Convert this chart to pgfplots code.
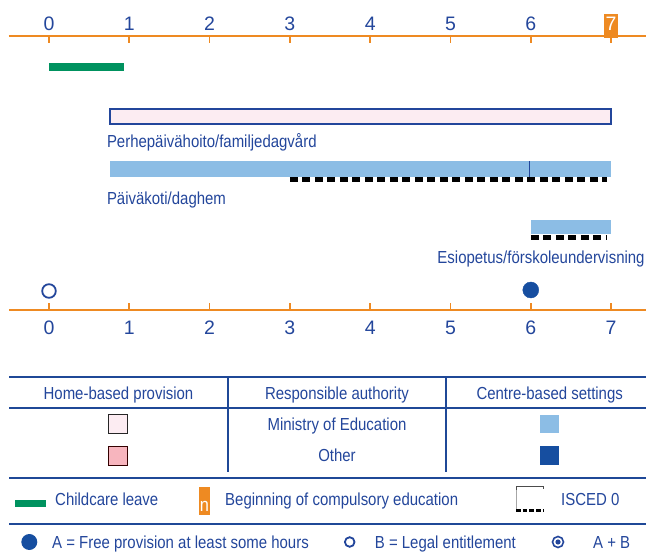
\documentclass[border=0pt]{standalone}
\usepackage{fontspec}
\setmainfont{Liberation Sans}[FakeStretch=0.86]
\newfontfamily\digitfont{Liberation Sans}
\usepackage{pgfplots}
\pgfplotsset{compat=1.18}

\definecolor{navy}{HTML}{23469B}
\definecolor{rulecol}{HTML}{1F4897}
\definecolor{ageorange}{HTML}{EE8A22}
\definecolor{leavegreen}{HTML}{00925F}
\definecolor{lightblue}{HTML}{8CBDE5}
\definecolor{darkblue}{HTML}{164EA0}
\definecolor{palepink}{HTML}{FCECF2}
\definecolor{pinkfill}{HTML}{F7B5BE}

\newcommand\txt{\fontsize{17.4}{20}\selectfont\color{navy}}

% common geometry of the age scale (1pt = 1px of the reference)
\pgfplotsset{
  agescale/.style={
    at={(9pt,-310pt)}, anchor=south west,
    scale only axis, width=637pt, height=274pt,
    xmin=-0.498, xmax=7.435, ymin=-310, ymax=-36,
    axis y line=none, ytick=\empty, clip=false,
    x axis line style={-, ageorange, line width=1.6pt},
    xtick={0,...,7},
    xtick style={ageorange, line width=1.6pt},
    major tick length=7pt, tick align=inside,
    xticklabel style={font=\digitfont\fontsize{19.5}{20}\selectfont, text=navy, inner sep=0pt},
  }
}

\begin{document}
\begin{tikzpicture}
\useasboundingbox (0,0) rectangle (646pt,-556pt);

% bottom scale + data
\begin{axis}[agescale,
    axis x line*=box,
    xticklabels={0,1,2,3,4,5,6,7},
    xticklabel style={anchor=base, yshift=-24pt},
  ]
  % childcare leave
  \addplot[fill=leavegreen, draw=none] coordinates {(0,-63) (0.93,-63) (0.93,-71) (0,-71)} -- cycle;
  % Perhepaivahoito (home-based, Ministry of Education)
  \addplot[fill=palepink, draw=navy, line width=1.2pt] coordinates {(0.76,-109) (7,-109) (7,-124) (0.76,-124)} -- cycle;
  % Paivakoti (centre-based, Ministry of Education)
  \addplot[fill=lightblue, draw=none] coordinates {(0.76,-161) (7,-161) (7,-177) (0.76,-177)} -- cycle;
  \addplot[navy, line width=1.3pt] coordinates {(5.98,-161) (5.98,-177)};
  \addplot[black, line width=5pt, dash pattern=on 8pt off 4.5pt] coordinates {(3,-179.5) (6.95,-179.5)};
  % Esiopetus
  \addplot[fill=lightblue, draw=none] coordinates {(6,-220) (7,-220) (7,-234) (6,-234)} -- cycle;
  \addplot[black, line width=5pt, dash pattern=on 8pt off 4.5pt] coordinates {(6,-238) (6.95,-238)};
  % entitlement markers
  \addplot[only marks, mark=o, mark size=6.8pt, navy, mark options={line width=1.8pt}] coordinates {(0,-291)};
  \addplot[only marks, mark=*, mark size=8pt, darkblue, mark options={fill=darkblue, draw=darkblue}] coordinates {(6,-290)};

  \node[anchor=base west, inner sep=0pt] at (axis cs:0.72,-147.5) {\txt Perhepäivähoito/familjedagvård};
  \node[anchor=base west, inner sep=0pt] at (axis cs:0.72,-205) {\txt Päiväkoti/daghem};
  \node[anchor=base east, inner sep=0pt] at (axis cs:7.42,-264) {\txt Esiopetus/förskoleundervisning};
\end{axis}

% top scale with compulsory-school marker
\begin{axis}[agescale,
    axis x line*=top,
    xticklabels={0,1,2,3,4,5,6,{\setlength\fboxsep{1.6pt}\colorbox{ageorange}{\rule[-5.5pt]{0pt}{20.5pt}\textcolor{white}{7}}}},
    xticklabel style={anchor=base, yshift=5.3pt},
  ]
  \addplot[draw=none] coordinates {(0,-100)};
\end{axis}

% legend
\begin{scope}[x=1pt, y=-1pt]
  \draw[rulecol, line width=2pt] (9,377.5) -- (646,377.5);
  \draw[rulecol, line width=1.8pt] (9,407.7) -- (646,407.7);
  \draw[rulecol, line width=1.8pt] (228.3,377.5) -- (228.3,471.7);
  \draw[rulecol, line width=1.8pt] (445.7,377.5) -- (445.7,471.7);
  \draw[rulecol, line width=2pt] (9,478.3) -- (646,478.3);
  \draw[rulecol, line width=2pt] (9,523.7) -- (646,523.7);

  \node[anchor=base, inner sep=0pt] at (118.5,399.3) {\txt Home-based provision};
  \node[anchor=base, inner sep=0pt] at (337,399.3) {\txt Responsible authority};
  \node[anchor=base, inner sep=0pt] at (549.7,399.3) {\txt Centre-based settings};

  \draw[fill=palepink, draw=black!85, line width=1pt] (108,414) rectangle (127,433);
  \draw[fill=pinkfill, draw=black!60!red!50!black, line width=1pt] (108,446) rectangle (127,465);
  \fill[lightblue] (540,415) rectangle (559,433);
  \fill[darkblue] (540,446) rectangle (559,465);
  \node[anchor=base, inner sep=0pt] at (337,431) {\txt Ministry of Education};
  \node[anchor=base, inner sep=0pt] at (337,461.7) {\txt Other};

  \fill[leavegreen] (15,500) rectangle (46,507);
  \node[anchor=base west, inner sep=0pt] at (55,505.3) {\txt Childcare leave};
  \fill[ageorange] (199,487) rectangle (210,515);
  \node[anchor=base, inner sep=0pt, text=white] at (204.5,511) {\fontsize{19}{20}\selectfont n};
  \node[anchor=base west, inner sep=0pt] at (225,505.3) {\txt Beginning of compulsory education};
  \draw[black!70, line width=0.8pt] (516.4,490) -- (516.4,486.5) -- (543,486.5) -- (543,489);
  \draw[black!35, line width=0.8pt] (516.4,490) -- (516.4,511);
  \draw[black, line width=3pt, dash pattern=on 4.5pt off 2.2pt] (516,510.5) -- (543,510.5);
  \node[anchor=base west, inner sep=0pt] at (561,505.3) {\txt ISCED 0};

  \fill[darkblue] (29.3,542) circle (8);
  \node[anchor=base west, inner sep=0pt] at (52,548) {\txt A = Free provision at least some hours};
  \draw[navy, line width=1.8pt] (349.7,542) circle (4.8);
  \node[anchor=base west, inner sep=0pt] at (374.7,548) {\txt B = Legal entitlement};
  \draw[navy, line width=1.6pt] (558,542) circle (5.5);
  \fill[navy] (558,542) circle (2.6);
  \node[anchor=base west, inner sep=0pt] at (593,548) {\txt A + B};
\end{scope}
\end{tikzpicture}
\end{document}
